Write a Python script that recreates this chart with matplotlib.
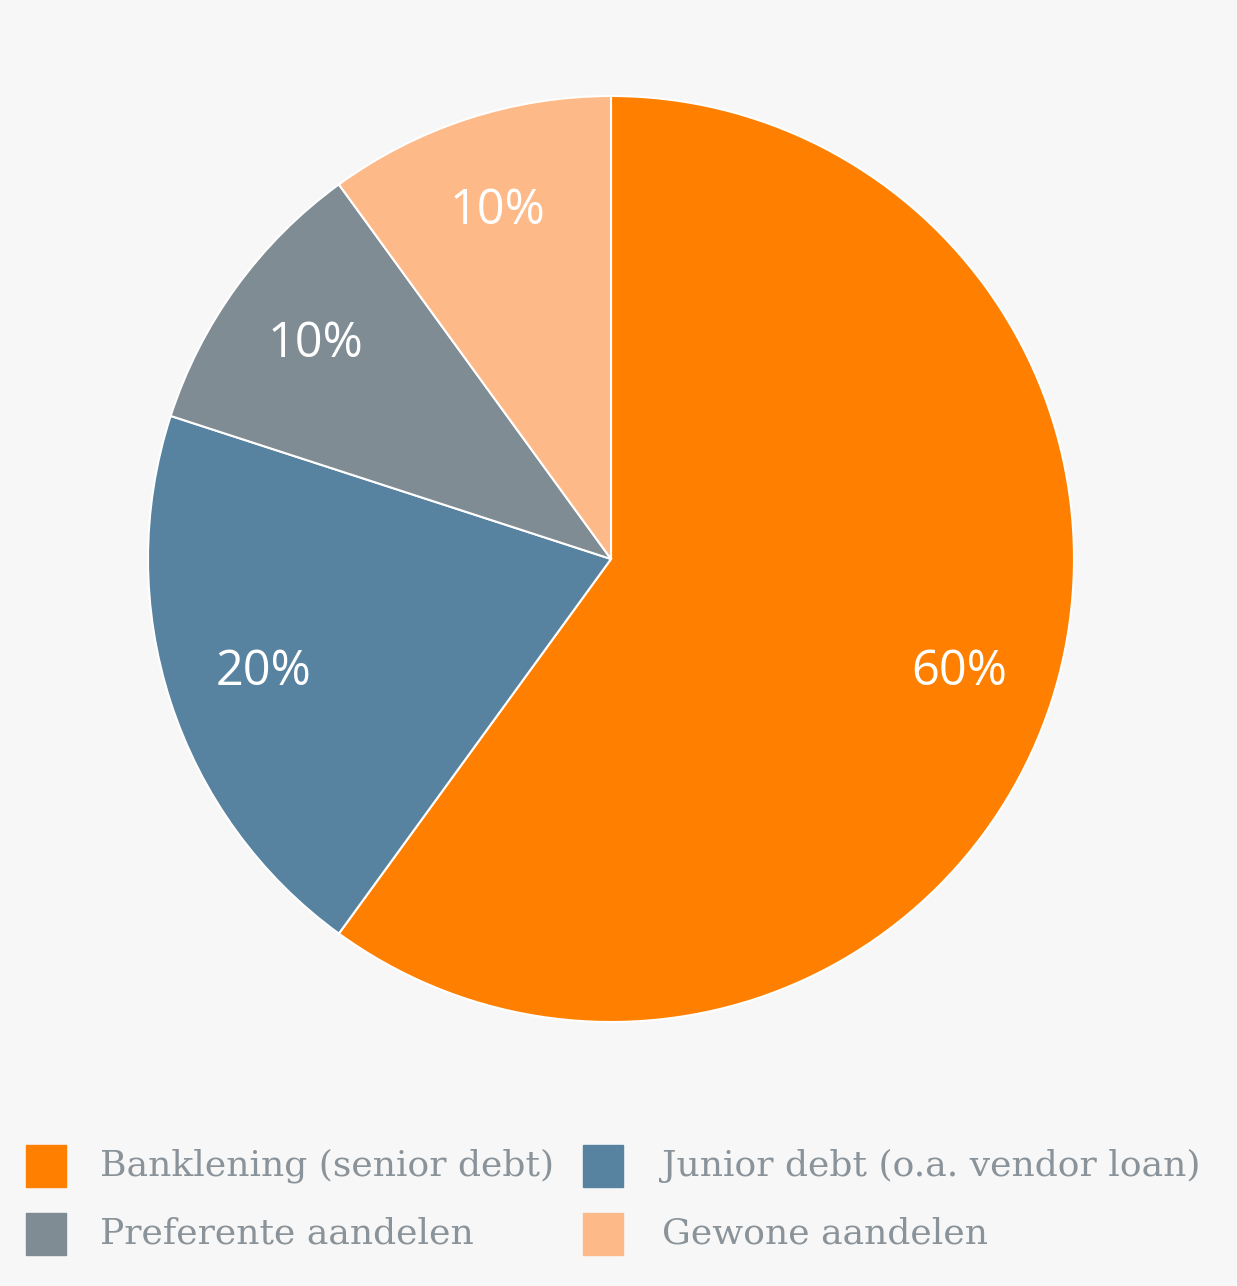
import matplotlib
matplotlib.use("Agg")
import matplotlib.pyplot as plt
from matplotlib.patches import Rectangle

labels = ["Banklening (senior debt)", "Junior debt (o.a. vendor loan)",
          "Preferente aandelen", "Gewone aandelen"]
values = [60, 20, 10, 10]
colors = ["#FF8000", "#5782A0", "#808C94", "#FDBA88"]

W, H = 1237, 1286
fig = plt.figure(figsize=(W / 100, H / 100), dpi=100, facecolor="#F7F7F7")
ax = fig.add_axes([0, 0, 1, 1])
ax.set_facecolor("#F7F7F7")

wedges, texts, autotexts = ax.pie(
    values, colors=colors, startangle=90, counterclock=False,
    center=(611, H - 559), radius=463, autopct="%d%%", pctdistance=0.79,
    wedgeprops=dict(edgecolor="white", linewidth=1.5),
    textprops=dict(color="white", fontsize=35, family="Open Sans"),
    frame=True)
ax.set_xlim(0, W)
ax.set_ylim(0, H)
ax.set_aspect("equal")
ax.axis("off")

# legend laid out by hand: two columns, two rows
cols = [(26, 100), (583, 662)]
rows = [H - 1166, H - 1234]
for i in range(len(labels)):
    cx, tx = cols[i % 2]
    cy = rows[i // 2]
    ax.add_patch(Rectangle((cx, cy - 21), 40, 42, color=colors[i]))
    ax.text(tx, cy, labels[i], fontsize=26, family="DejaVu Serif",
            color="#8A9399", va="center", ha="left")

fig.savefig("out.png", dpi=100, facecolor=fig.get_facecolor())
